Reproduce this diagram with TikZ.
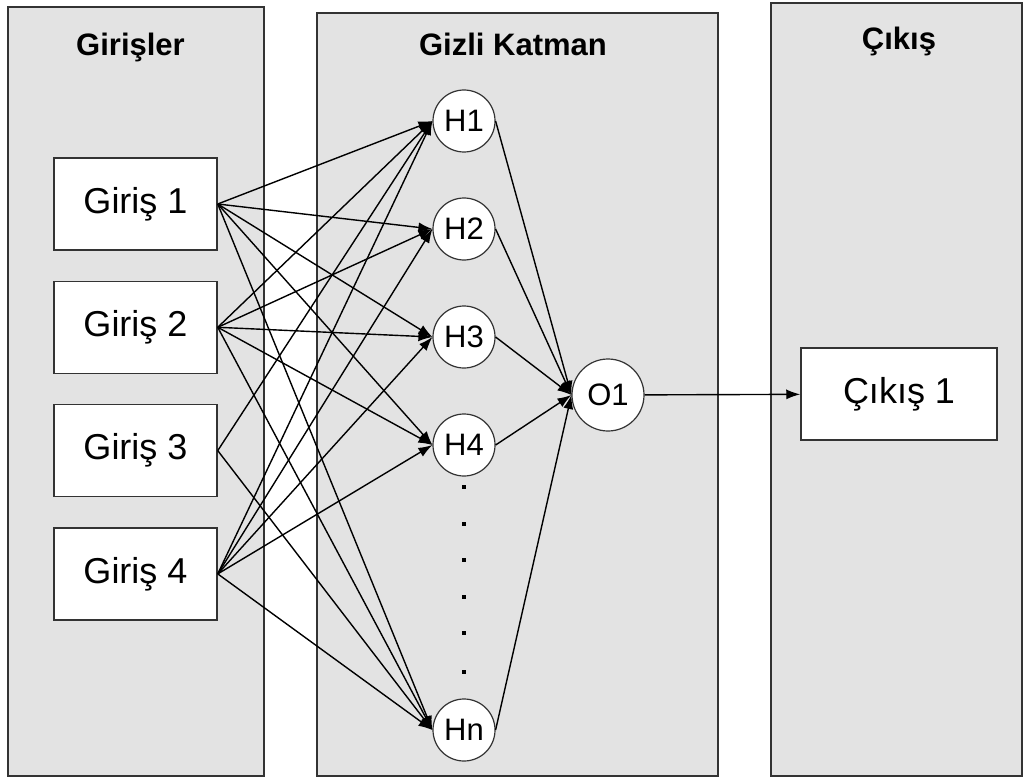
\documentclass[tikz,border=0pt]{standalone}
\usepackage{fontspec}
\setmainfont{Liberation Sans}
\usetikzlibrary{arrows.meta}
\definecolor{panelgray}{HTML}{E3E3E3}
\definecolor{edgegray}{HTML}{333333}
\tikzset{%
  >={Latex[width=10pt,length=14pt]},
   panel/.style = {rectangle, draw=edgegray, line width=1.5pt, fill=panelgray, inner sep=0pt},
   title/.style = {font=\bfseries\fontsize{31}{37}\selectfont, inner sep=0pt, anchor=base},
    unit/.style = {rectangle, draw=edgegray, line width=1.5pt, fill=white,
                   minimum width=163pt, minimum height=92pt,
                   font=\fontsize{36}{43}\selectfont},
  neuron/.style = {circle, draw=edgegray, line width=1.2pt, fill=white,
                   minimum size=62pt, inner sep=0pt, font=\fontsize{31}{37}\selectfont},
    link/.style = {->, line width=1.4pt},
}
\begin{document}
\begin{tikzpicture}[x=1pt, y=-1pt, node distance=123.3pt]
  \useasboundingbox (0,0) rectangle (1027,778);

  % layer panels
  \node (pnlIn)  [panel, minimum width=256pt, minimum height=769pt] at (136,391.5) {};
  \node (pnlHid) [panel, minimum width=401pt, minimum height=763pt] at (517.5,394.5) {};
  \node (pnlOut) [panel, minimum width=251pt, minimum height=773pt] at (896.5,389.5) {};
  \node (ttlIn)  [title] at (130.5,56) {Girişler};
  \node (ttlHid) [title] at (513,56)   {Gizli Katman};
  \node (ttlOut) [title] at (899,50)   {Çıkış};

  % inputs
  \node (in1) [unit] at (135.5,204) {Giriş 1};
  \node (in2) [unit, below of=in1] {Giriş 2};
  \node (in3) [unit, below of=in2] {Giriş 3};
  \node (in4) [unit, below of=in3] {Giriş 4};

  % hidden layer
  \begin{scope}[node distance=108pt]
    \node (h1) [neuron] at (464,121) {H1};
    \node (h2) [neuron, below of=h1] {H2};
    \node (h3) [neuron, below of=h2] {H3};
    \node (h4) [neuron, below of=h3] {H4};
  \end{scope}
  \node (hn) [neuron] at (464,730) {Hn};
  \foreach \y in {487,524,560,597,633,672}
    \fill (461.5,\y-2) rectangle ++(4,4);

  % output
  \node (o1)   [neuron, minimum size=72pt] at (608,395) {O1};
  \node (out1) [unit, minimum width=196pt] at (899,394) {Çıkış 1};

  \foreach \src in {in1,in2,in4}
    \foreach \dst in {h1,h2,h3,h4,hn}
      \draw[link] (\src.east) -- (\dst.west);
  \draw[link] (in3.east) -- (h1.west);
  \draw[link] (in3.east) -- (hn.west);
  \foreach \src in {h1,h2,h3,h4,hn}
    \draw[link] (\src.east) -- (o1.west);
  \draw[link] (o1) -- (out1);
\end{tikzpicture}
\end{document}
